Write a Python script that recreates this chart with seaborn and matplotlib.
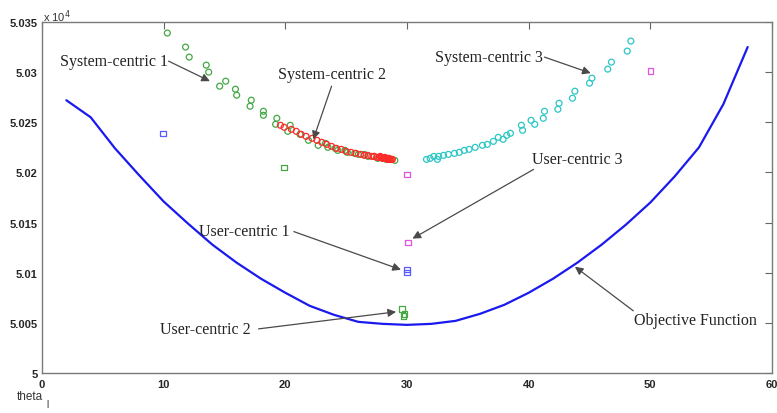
import matplotlib
matplotlib.use("Agg")
import matplotlib.pyplot as plt
import seaborn as sns
import numpy as np

# ---------------- data (y in units of 10^4) ----------------
obj_x = [2, 4, 6, 8, 10, 12, 14, 16, 18, 20, 22, 24, 26, 28, 30, 32, 34, 36, 38,
         40, 42, 44, 46, 48, 50, 52, 54, 56, 58]
obj_y = [5.0272, 5.0255, 5.0224, 5.0197, 5.0171, 5.0149, 5.0128, 5.0110, 5.0094,
         5.0080, 5.0067, 5.0058, 5.0051, 5.0049, 5.0048, 5.0049, 5.0052, 5.0059,
         5.0068, 5.0080, 5.0094, 5.0110, 5.0128, 5.0148, 5.0170, 5.0196, 5.0225,
         5.0268, 5.0325]

sys1_x = [10.3, 11.8, 12.1, 13.5, 13.7, 14.6, 15.1, 15.9, 16.0, 17.1, 17.2, 18.2,
          18.2, 19.3, 19.2, 20.4, 20.2, 21.2, 21.9, 22.7, 23.5, 23.3, 24.3, 24.1,
          25.1, 24.9, 26.0, 25.7, 26.8, 26.5, 27.6, 27.3, 28.0, 28.3, 28.7, 29.0, 28.5]
sys1_y = [5.0339, 5.0325, 5.0315, 5.0307, 5.0300, 5.0286, 5.0291, 5.0283, 5.0277,
          5.0266, 5.0272, 5.0261, 5.0257, 5.0254, 5.0248, 5.0247, 5.0241, 5.0238,
          5.0232, 5.0227, 5.0225, 5.0229, 5.0222, 5.0224, 5.0220, 5.0222, 5.0218,
          5.0219, 5.0216, 5.0218, 5.0214, 5.0216, 5.0214, 5.0213, 5.0213, 5.0212,
          5.0214]

sys2_x = [19.6, 19.9, 20.5, 20.9, 21.3, 21.7, 22.2, 22.6, 23.0, 23.4, 23.8, 24.2,
          24.6, 25.0, 25.4, 25.8, 26.2, 26.5, 26.8, 27.1, 27.3, 27.5, 27.7, 27.9,
          28.0, 28.1, 28.2, 28.3, 28.4, 28.5, 28.6, 28.7, 28.8, 27.8, 28.2, 28.5]
sys2_y = [5.0247, 5.0245, 5.0243, 5.0241, 5.0238, 5.0236, 5.0234, 5.0232, 5.0230,
          5.0228, 5.0226, 5.0224, 5.0223, 5.0221, 5.0220, 5.0219, 5.0218, 5.0217,
          5.0217, 5.0216, 5.0216, 5.0215, 5.0215, 5.0215, 5.0214, 5.0214, 5.0214,
          5.0214, 5.0213, 5.0213, 5.0213, 5.0213, 5.0213, 5.0216, 5.0215, 5.0214]

sys3_x = [48.4, 48.1, 46.8, 46.5, 45.2, 45.0, 43.8, 43.6, 42.5, 42.4, 41.3, 41.2,
          40.2, 40.5, 39.4, 39.5, 38.5, 38.2, 37.9, 37.5, 37.1, 36.6, 36.2, 35.6,
          35.1, 34.7, 34.3, 33.9, 33.4, 33.0, 32.6, 32.2, 31.9, 31.6, 32.5]
sys3_y = [5.0331, 5.0321, 5.0310, 5.0303, 5.0294, 5.0289, 5.0281, 5.0274, 5.0269,
          5.0263, 5.0261, 5.0254, 5.0252, 5.0248, 5.0247, 5.0242, 5.0239, 5.0237,
          5.0233, 5.0235, 5.0231, 5.0228, 5.0227, 5.0225, 5.0223, 5.0222, 5.0220,
          5.0219, 5.0218, 5.0217, 5.0216, 5.0216, 5.0214, 5.0213, 5.0213]

user1_x = [9.93, 30.0, 30.0]
user1_y = [5.0239, 5.0103, 5.0100]
user2_x = [19.9, 29.6, 29.8, 29.7]
user2_y = [5.0205, 5.0064, 5.0059, 5.0057]
user3_x = [30.0, 30.1, 50.0]
user3_y = [5.0198, 5.0130, 5.0301]

xticks = [0, 10, 20, 30, 40, 50, 60]
yticks = [5.0, 5.005, 5.01, 5.015, 5.02, 5.025, 5.03, 5.035]
ytick_labels = ["5", "5.005", "5.01", "5.015", "5.02", "5.025", "5.03", "5.035"]

# ---------------- figure ----------------
sns.set_theme(style="white")
plt.rcParams['font.family'] = ['Liberation Sans', 'DejaVu Sans']

fig = plt.figure(figsize=(7.77, 4.14), dpi=100)
ax = fig.add_axes([42/777, 40/414, (772-42)/777, (391-40)/414])

sns.lineplot(x=obj_x, y=obj_y, ax=ax, color='#1a1aee', linewidth=1.6)

circ = dict(marker='o', s=18, facecolor='none', linewidth=0.9, ax=ax, legend=False)
sns.scatterplot(x=sys1_x, y=sys1_y, edgecolor='#44a844', **circ)
sns.scatterplot(x=sys2_x, y=sys2_y, edgecolor='#ff2a2a', **circ)
sns.scatterplot(x=sys3_x, y=sys3_y, edgecolor='#2cc6c6', **circ)

sq = dict(marker='s', s=16, facecolor='none', linewidth=0.9, ax=ax, legend=False)
sns.scatterplot(x=user1_x, y=user1_y, edgecolor='#5a5aff', **sq)
sns.scatterplot(x=user2_x, y=user2_y, edgecolor='#44a844', **sq)
sns.scatterplot(x=user3_x, y=user3_y, edgecolor='#e055e0', **sq)

ax.set_xlim(0, 60)
ax.set_ylim(5.0, 5.035)
ax.set_xticks(xticks)
ax.set_xticklabels([str(t) for t in xticks])
ax.set_yticks(yticks)
ax.set_yticklabels(ytick_labels)
ax.tick_params(direction='in', length=5, width=0.8, color='#666666',
               top=True, right=True, labelsize=8, labelcolor='#262626', pad=3)
ax.tick_params(axis='x', pad=4)
for lab in ax.get_xticklabels() + ax.get_yticklabels():
    lab.set_fontweight('bold')
for sp in ax.spines.values():
    sp.set_color('#7a7a7a')
    sp.set_linewidth(1.0)
ax.set_xlabel('')
ax.set_ylabel('')

# multiplier and axis label
fig.text(43/777, 1 - 17/414, r'x 10$^{4}$', fontsize=8, color='#333333',
         ha='left', va='center')
fig.text(17/777, 1 - 397/414, 'theta', fontsize=8.5, color='#333333',
         ha='left', va='center')
fig.text(46/777, 1 - 405/414, 'l', fontsize=7, color='#333333',
         ha='left', va='center')

# annotations
serif = ['Liberation Serif', 'DejaVu Serif']
arrow = dict(arrowstyle='-|>', color='#4a4a4a', lw=0.9, mutation_scale=12,
             shrinkA=0, shrinkB=0)

def label(text, tx, ty):
    ax.text(tx, ty, text, fontsize=11.5, family=serif, color='#222222',
            ha='center', va='center')

def arr(sx, sy, ex, ey):
    ax.annotate('', xy=(ex, ey), xytext=(sx, sy), arrowprops=arrow)

label('System-centric 1', 5.9, 5.0311)
arr(10.4, 5.0311, 13.8, 5.0291)
label('System-centric 2', 23.8, 5.0298)
arr(23.8, 5.0286, 22.3, 5.0233)
label('System-centric 3', 36.7, 5.0315)
arr(41.3, 5.0315, 45.1, 5.0299)
label('User-centric 3', 44.0, 5.0213)
arr(40.4, 5.0203, 30.45, 5.0134)
label('User-centric 1', 16.65, 5.0142)
arr(20.7, 5.0141, 29.5, 5.0103)
label('User-centric 2', 13.4, 5.0044)
arr(17.8, 5.0044, 29.1, 5.0061)
label('Objective Function', 53.7, 5.0053)
arr(48.6, 5.0062, 43.8, 5.0106)

fig.savefig('out.png', dpi=100)
